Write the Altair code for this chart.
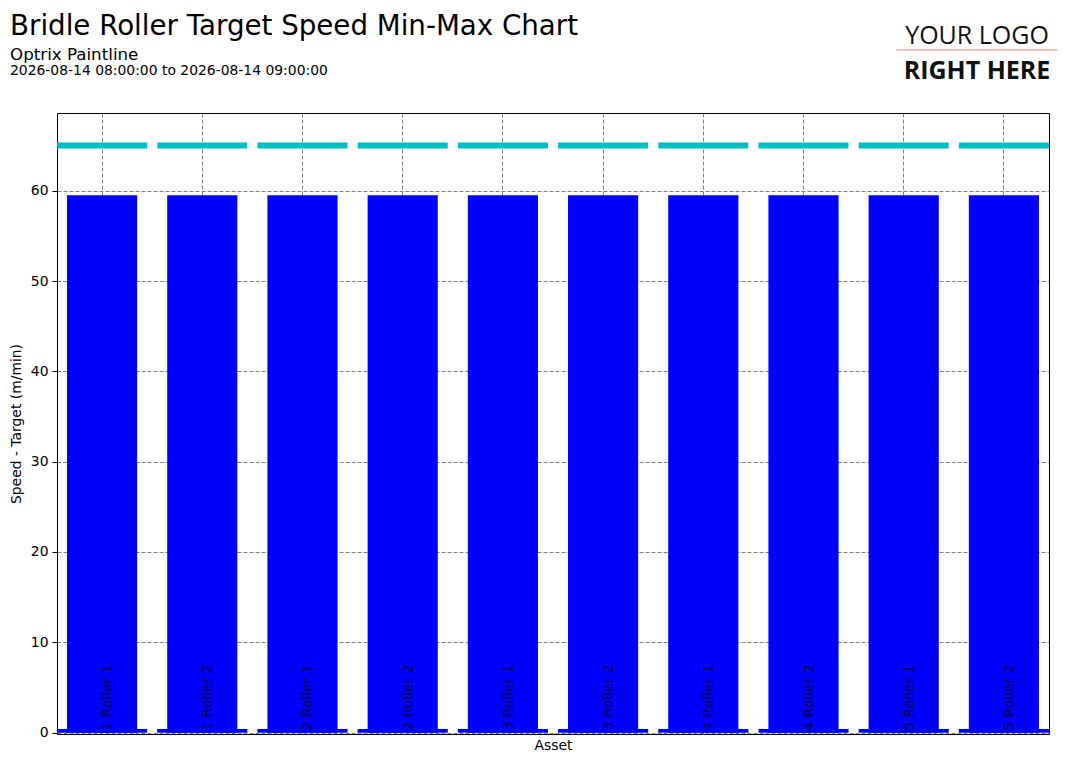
import altair as alt
import pandas as pd

# ---- data ----
assets = ["1 Roller 1", "1 Roller 2", "2 Roller 1", "2 Roller 2", "3 Roller 1",
          "3 Roller 2", "4 Roller 1", "4 Roller 2", "5 Roller 1", "5 Roller 2"]
speed_avg = [59.5, 59.5, 59.5, 59.5, 59.5, 59.5, 59.5, 59.5, 59.5, 59.5]
speed_min = [0.4, 0.4, 0.4, 0.4, 0.4, 0.4, 0.4, 0.4, 0.4, 0.4]
speed_max = [65.0, 65.0, 65.0, 65.0, 65.0, 65.0, 65.0, 65.0, 65.0, 65.0]
y_ticks = [0, 10, 20, 30, 40, 50, 60]

title_text = "Bridle Roller Target Speed Min-Max Chart"
subtitle_text = "Optrix Paintline"
range_text = "2026-08-14 08:00:00 to 2026-08-14 09:00:00"
logo_top = "YOUR LOGO"
logo_bottom = "RIGHT HERE"

df = pd.DataFrame({"Asset": assets, "Avg": speed_avg, "Min": speed_min, "Max": speed_max})
one = pd.DataFrame({"k": [0]})

FONT = "DejaVu Sans"
FS = 13.9
W, H = 992, 621

x = alt.X("Asset:N", sort=assets,
          scale=alt.Scale(paddingInner=0.1, paddingOuter=0),
          axis=alt.Axis(labels=False, ticks=False, domain=False, grid=True,
                        gridColor="#808080", gridDash=[4, 2], gridWidth=1,
                        title="Asset", titleFont=FONT, titleFontSize=FS,
                        titleFontWeight="normal", titleColor="black", titlePadding=4))
yscale = alt.Scale(domain=[-0.15, 68.6], nice=False, zero=False)
yaxis = alt.Axis(values=y_ticks, grid=True, gridColor="#808080", gridDash=[4, 2],
                 domain=False, tickColor="black", tickSize=5, labelFont=FONT,
                 labelFontSize=FS, labelColor="black", labelPadding=4,
                 title="Speed - Target (m/min)", titleFont=FONT, titleFontSize=FS,
                 titleFontWeight="normal", titleColor="black", titlePadding=7)

base = alt.Chart(df)

avg_bar = base.mark_bar(color="#0000ff", width=alt.RelativeBandSize(0.778)).encode(
    x=x, y=alt.Y("Avg:Q", scale=yscale, axis=yaxis), y2=alt.datum(0))
min_bar = base.mark_bar(color="#0000ff").encode(
    x=x, y=alt.Y("Min:Q", scale=yscale), y2=alt.datum(0))
max_tick = base.mark_tick(color="#00bfbf", thickness=6, size=90, opacity=1).encode(
    x=x, y=alt.Y("Max:Q", scale=yscale))
labels = base.mark_text(angle=270, align="left", baseline="top", font=FONT,
                        fontSize=FS, color="black", opacity=0.75, yOffset=-2,
                        xOffset=-1).encode(
    x=x, y=alt.datum(0), text="Asset:N")

hdr = alt.Chart(one)
t1 = hdr.mark_text(align="left", baseline="alphabetic", font=FONT, fontSize=27.7,
                   color="black").encode(x=alt.value(-47), y=alt.value(-78),
                                         text=alt.value(title_text))
t2 = hdr.mark_text(align="left", baseline="alphabetic", font=FONT, fontSize=16.7,
                   color="black").encode(x=alt.value(-47), y=alt.value(-53),
                                         text=alt.value(subtitle_text))
t3 = hdr.mark_text(align="left", baseline="alphabetic", font=FONT, fontSize=FS,
                   color="black").encode(x=alt.value(-47), y=alt.value(-38),
                                         text=alt.value(range_text))
l1 = hdr.mark_text(align="center", baseline="alphabetic", font="Open Sans", fontSize=25,
                   color="#111111").encode(x=alt.value(920), y=alt.value(-69),
                                           text=alt.value(logo_top))
l2 = hdr.mark_text(align="center", baseline="alphabetic", font="Open Sans", fontSize=25,
                   fontWeight="bold", color="#111111").encode(
    x=alt.value(920), y=alt.value(-34), text=alt.value(logo_bottom))
lrule = hdr.mark_rule(color="#f08080", strokeWidth=1).encode(
    x=alt.value(839), x2=alt.value(1000), y=alt.value(-63))

chart = alt.layer(avg_bar, min_bar, max_tick, labels, t1, t2, t3, l1, l2, lrule).properties(
    width=W, height=H,
    autosize=alt.AutoSizeParams(type="none"),
    padding={"left": 49, "top": 105, "right": 16, "bottom": 22},
    background="white",
).configure_view(stroke="black", strokeWidth=1)

chart.save("out.html", embed_options={"renderer": "svg", "actions": False})
